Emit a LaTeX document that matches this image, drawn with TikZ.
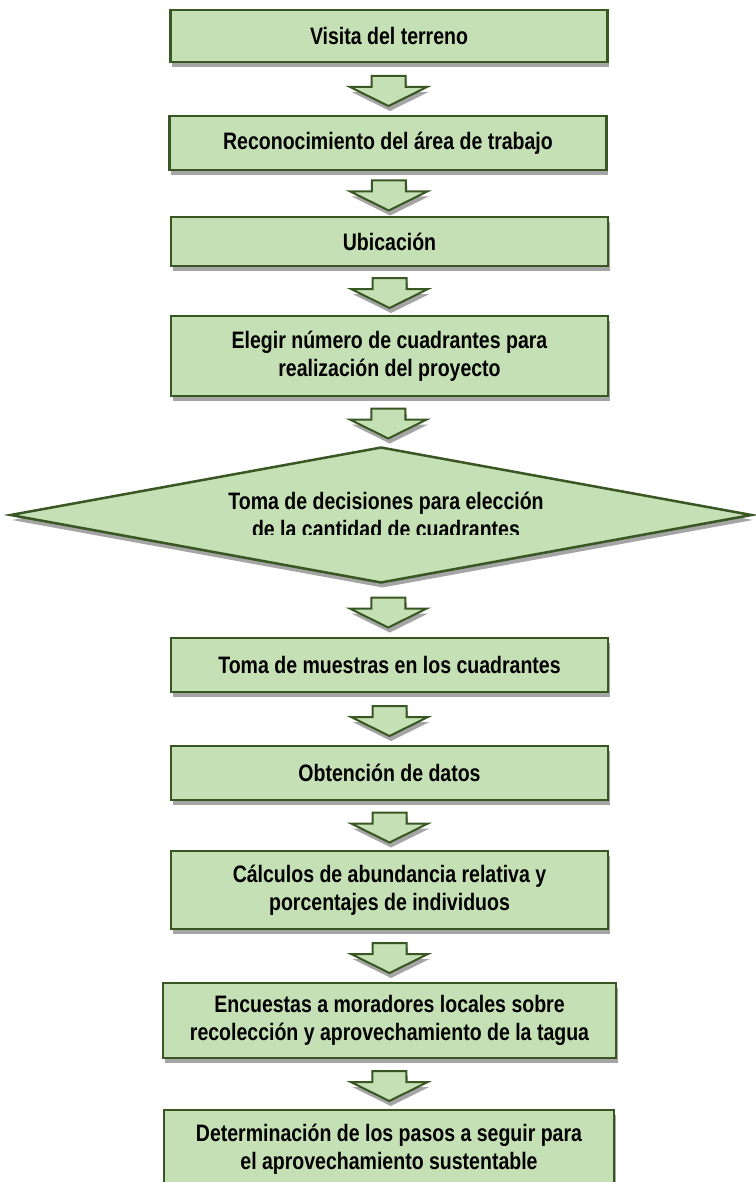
\documentclass[tikz,border=0pt]{standalone}
\usepackage{fontspec}
\setmainfont{Liberation Sans}[FakeStretch=0.82]
\usetikzlibrary{shapes.geometric, shadows, calc}

\definecolor{verdeclaro}{RGB}{197,224,180}
\definecolor{verdeosc}{RGB}{56,87,35}

\tikzset{
  sombra/.style={drop shadow={shadow xshift=1.5pt, shadow yshift=-5pt, fill=black!70, opacity=0.5}},
  texto/.style={font=\bfseries\fontsize{23.8}{28}\selectfont, align=center},
  caja/.style={draw=verdeosc, fill=verdeclaro, line width=2.5pt, sombra,
    minimum width=437pt, texto},
  decision/.style={diamond, draw=verdeosc, fill=verdeclaro, line width=2.5pt, sombra,
    aspect=5.45, minimum width=742pt, minimum height=136pt, inner sep=0pt},
  flechaestilo/.style={draw=verdeosc, fill=verdeclaro, line width=2pt, line join=miter, sombra},
  flecha/.pic={
    \filldraw[flechaestilo] (-17,-13) -- (17,-13) -- (17,-2) -- (38.5,-2) -- (0,17)
      -- (-38.5,-2) -- (-17,-2) -- cycle;
  }
}

\begin{document}
\begin{tikzpicture}[x=1pt, y=-1pt]
  \useasboundingbox (0,0) rectangle (755,1182);

  % Cajas del proceso
  \node[caja, minimum height=52pt] (visita) at (389,36) {Visita del terreno};
  \node[caja, minimum height=54pt] (reconoc) at (388,143) {Reconocimiento del área de trabajo};
  \node[caja, minimum height=49pt] (ubic) at (389.5,241.5) {Ubicación};
  \node[caja, minimum height=80pt] (elegir) at (389.5,356) {Elegir número de cuadrantes para\\realización del proyecto};

  % Decision
  \node[decision] (dec) at (381,515) {};
  \begin{scope}
    \clip (150,470) rectangle (620,534);
    \node[texto] (tdec) at (386,515)
      {Toma de decisiones para elección\\de la cantidad de cuadrantes};
  \end{scope}

  \node[caja, minimum height=54pt] (muestras) at (389.5,665) {Toma de muestras en los cuadrantes};
  \node[caja, minimum height=54pt] (datos) at (389.5,773) {Obtención de datos};
  \node[caja, minimum height=78pt] (calculos) at (389.5,890) {Cálculos de abundancia relativa y\\porcentajes de individuos};
  \node[caja, minimum width=453pt, minimum height=75pt] (encuestas) at (389.5,1020.5) {Encuestas a moradores locales sobre\\recolección y aprovechamiento de la tagua};
  \node[caja, minimum width=450pt, minimum height=78pt] (pasos) at (389,1149) {Determinación de los pasos a seguir para\\el aprovechamiento sustentable};

  % Flechas entre cajas
  \pic at ($(visita.south)!0.5!(reconoc.north)$) {flecha};
  \pic at ($(reconoc.south)!0.5!(ubic.north)$) {flecha};
  \pic at ($(ubic.south)!0.5!(elegir.north)$) {flecha};
  \pic at ($(elegir.south)!0.5!(dec.north)+(3,0)$) {flecha};
  \pic at ($(dec.south)!0.5!(muestras.north)+(3,0)$) {flecha};
  \pic at ($(muestras.south)!0.5!(datos.north)$) {flecha};
  \pic at ($(datos.south)!0.5!(calculos.north)$) {flecha};
  \pic at ($(calculos.south)!0.5!(encuestas.north)$) {flecha};
  \pic at ($(encuestas.south)!0.5!(pasos.north)$) {flecha};
\end{tikzpicture}
\end{document}
